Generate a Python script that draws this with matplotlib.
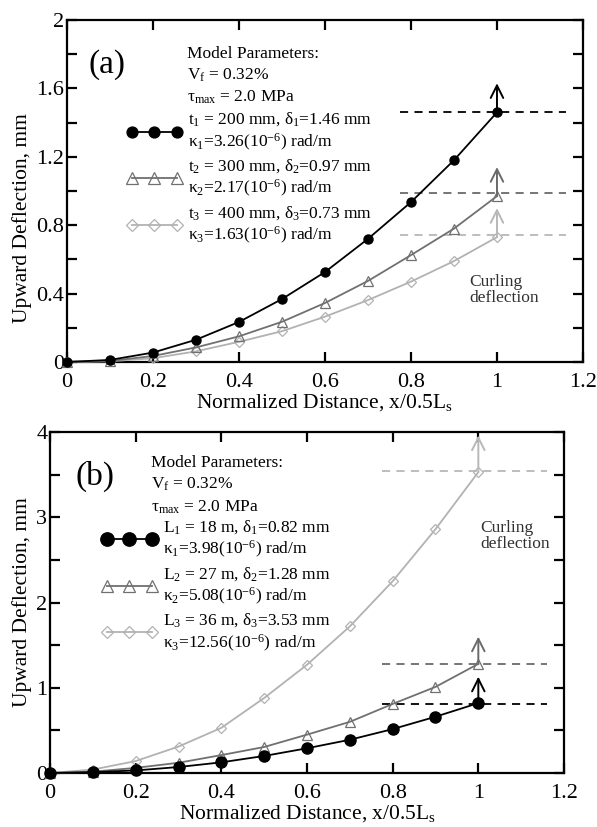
import matplotlib
matplotlib.use("Agg")
import matplotlib.pyplot as plt
import numpy as np

plt.rcParams['font.family'] = ['Liberation Serif', 'DejaVu Serif']
plt.rcParams['mathtext.fontset'] = 'custom'
plt.rcParams['mathtext.rm'] = 'Liberation Serif'
plt.rcParams['mathtext.it'] = 'Liberation Serif:italic'
plt.rcParams['mathtext.bf'] = 'Liberation Serif:bold'

# ---------------- data ----------------
x = [0, 0.1, 0.2, 0.3, 0.4, 0.5, 0.6, 0.7, 0.8, 0.9, 1.0]
x_ticks = [0, 0.2, 0.4, 0.6, 0.8, 1.0, 1.2]
x_ticklabels = ['0', '0.2', '0.4', '0.6', '0.8', '1', '1.2']

# panel (a): slab thickness
a_t1 = [0, 0.012, 0.055, 0.13, 0.234, 0.368, 0.526, 0.72, 0.935, 1.18, 1.46]
a_t2 = [0, 0.006, 0.035, 0.085, 0.15, 0.235, 0.345, 0.474, 0.625, 0.78, 0.97]
a_t3 = [0, 0.004, 0.022, 0.062, 0.118, 0.18, 0.265, 0.362, 0.47, 0.59, 0.73]
a_labels = [r't$_\mathrm{1}$ = 200 mm, δ$_\mathrm{1}$=1.46 mm' + '\n' + r'κ$_\mathrm{1}$=3.26(10$^{-6}$) rad/m',
            r't$_\mathrm{2}$ = 300 mm, δ$_\mathrm{2}$=0.97 mm' + '\n' + r'κ$_\mathrm{2}$=2.17(10$^{-6}$) rad/m',
            r't$_\mathrm{3}$ = 400 mm, δ$_\mathrm{3}$=0.73 mm' + '\n' + r'κ$_\mathrm{3}$=1.63(10$^{-6}$) rad/m']
a_dash_y = [1.46, 0.99, 0.74]
a_arrow_top = [1.63, 1.14, 0.90]
a_yticks = [0, 0.4, 0.8, 1.2, 1.6, 2.0]
a_yticklabels = ['0', '0.4', '0.8', '1.2', '1.6', '2']

# panel (b): slab length
b_L1 = [0, 0.01, 0.03, 0.07, 0.125, 0.2, 0.29, 0.39, 0.515, 0.66, 0.82]
b_L2 = [0, 0.015, 0.06, 0.12, 0.21, 0.305, 0.45, 0.6, 0.81, 1.01, 1.28]
b_L3 = [0, 0.04, 0.14, 0.31, 0.53, 0.88, 1.27, 1.72, 2.25, 2.86, 3.53]
b_labels = [r'L$_\mathrm{1}$ = 18 m, δ$_\mathrm{1}$=0.82 mm' + '\n' + r'κ$_\mathrm{1}$=3.98(10$^{-6}$) rad/m',
            r'L$_\mathrm{2}$ = 27 m, δ$_\mathrm{2}$=1.28 mm' + '\n' + r'κ$_\mathrm{2}$=5.08(10$^{-6}$) rad/m',
            r'L$_\mathrm{3}$ = 36 m, δ$_\mathrm{3}$=3.53 mm' + '\n' + r'κ$_\mathrm{3}$=12.56(10$^{-6}$) rad/m']
b_dash_y = [0.81, 1.28, 3.54]
b_arrow_top = [1.13, 1.60, 3.96]
b_yticks = [0, 1, 2, 3, 4]
b_yticklabels = ['0', '1', '2', '3', '4']

params_text = 'Model Parameters:\n' + r'V$_\mathrm{f}$ = 0.32%' + '\n' + r'τ$_\mathrm{max}$ = 2.0 MPa'

colors = ['#000000', '#707070', '#b2b2b2']
dash_colors = ['#000000', '#6a6a6a', '#b8b8b8']

FS_TICK = 16
FS_LAB = 15.5
FS_TXT = 12.5

fig = plt.figure(figsize=(5.97, 8.27), dpi=100)
axA = fig.add_axes([0.1122, 0.5623, 0.8643, 0.4135])
axB = fig.add_axes([0.0838, 0.0653, 0.8609, 0.4123])


def style(ax, ymax, yticks, yticklabels, ymin, ylab_xy):
    ax.set_xlim(0, 1.2)
    ax.set_ylim(0, ymax)
    ax.set_xticks(x_ticks)
    ax.set_xticklabels(x_ticklabels)
    ax.set_yticks(yticks)
    ax.set_yticklabels(yticklabels)
    ax.set_yticks(np.arange(0, ymax + 1e-9, ymin), minor=True)
    for s in ax.spines.values():
        s.set_linewidth(1.6)
    ax.tick_params(which='both', direction='in', top=True, right=True,
                   width=1.6, labelsize=FS_TICK)
    ax.tick_params(which='major', length=7)
    ax.tick_params(which='minor', length=7)
    ax.tick_params(axis='x', pad=8)
    ax.tick_params(axis='y', pad=2)
    ax.set_xlabel(r'Normalized Distance, x/0.5L$_\mathrm{s}$', fontsize=FS_LAB, labelpad=0)
    ax.set_ylabel('Upward Deflection, mm', fontsize=FS_LAB)
    ax.yaxis.set_label_coords(ylab_xy[0], ylab_xy[1])


def draw(ax, series, labels, dash_y, arrow_top, msizes, leg_x, leg_y, params_xy, tag_xy, tag, curl_xy):
    markers = ['o', '^', 'D']
    handles = []
    for i, ys in enumerate(series):
        c = colors[i]
        if i == 0:
            h, = ax.plot(x, ys, color=c, lw=1.3, marker='o', ms=msizes[0], mfc=c, mec=c, clip_on=False, zorder=5 - i)
        else:
            h, = ax.plot(x, ys, color=c, lw=1.3, marker=markers[i], ms=msizes[i], mfc='none', mec=c,
                         mew=0.9, clip_on=False, zorder=5 - i)
        handles.append(h)
        ax.plot([0.775, 1.16], [dash_y[i], dash_y[i]], color=dash_colors[i], lw=1.3, ls=(0, (4.5, 3.5)), zorder=2)
        ax.annotate('', xy=(1.0, arrow_top[i]), xytext=(1.0, ys[-1]),
                    arrowprops=dict(arrowstyle='->,head_length=0.9,head_width=0.45', color=dash_colors[i],
                                    lw=1.4, shrinkA=0, shrinkB=0), zorder=6)
    ax.legend(handles, labels, loc='upper left', bbox_to_anchor=(leg_x, leg_y), frameon=False,
              fontsize=FS_TXT, numpoints=3, handlelength=3.2, handletextpad=0.35,
              labelspacing=0.27, borderpad=0, borderaxespad=0, markerscale=1.2)
    ax.text(params_xy[0], params_xy[1], params_text, fontsize=FS_TXT, ha='left', va='top', linespacing=1.38)
    ax.text(tag_xy[0], tag_xy[1], tag, fontsize=24, ha='left', va='center')
    ax.text(curl_xy[0], curl_xy[1], 'Curling\ndeflection', fontsize=FS_TXT, color='#303030',
            ha='left', va='center', linespacing=1.0)


style(axA, 2.0, a_yticks, a_yticklabels, 0.2, (-0.068, 0.42))
draw(axA, [a_t1, a_t2, a_t3], a_labels, a_dash_y, a_arrow_top, [6.5, 7, 5.5],
     leg_x=0.115, leg_y=0.735, params_xy=(0.278, 1.85), tag_xy=(0.05, 1.74), tag='(a)', curl_xy=(0.935, 0.42))

style(axB, 4.0, b_yticks, b_yticklabels, 0.5, (-0.035, 0.5))
draw(axB, [b_L1, b_L2, b_L3], b_labels, b_dash_y, b_arrow_top, [8, 7, 5.5],
     leg_x=0.1, leg_y=0.747, params_xy=(0.235, 3.73), tag_xy=(0.06, 3.48), tag='(b)', curl_xy=(1.005, 2.78))

fig.savefig('out.png', dpi=100)
